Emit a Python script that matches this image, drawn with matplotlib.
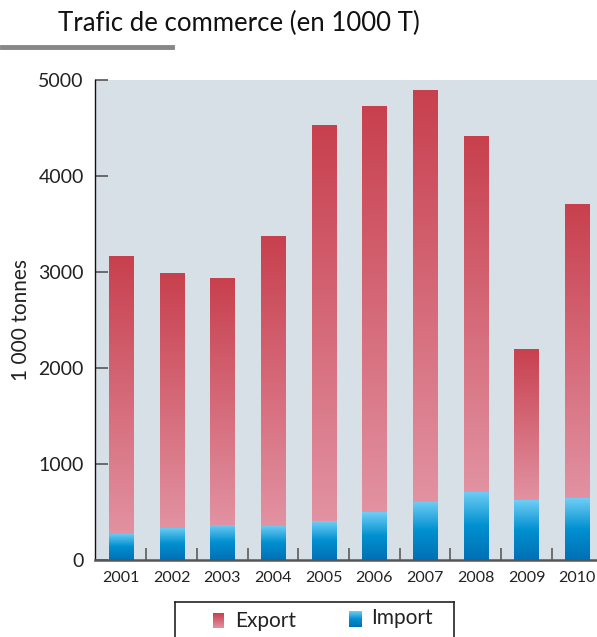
import numpy as np
import matplotlib
matplotlib.use("Agg")
import matplotlib.pyplot as plt
from matplotlib.colors import LinearSegmentedColormap

plt.rcParams['font.family'] = ['Lato', 'DejaVu Sans']

# data (1000 tonnes)
years = ['2001', '2002', '2003', '2004', '2005', '2006', '2007', '2008', '2009', '2010']
total = [3170, 2990, 2935, 3370, 4530, 4725, 4895, 4415, 2200, 3705]
imports = [275, 335, 365, 355, 405, 500, 605, 710, 625, 645]
exports = [t - i for t, i in zip(total, imports)]

W, H = 597, 637
fig = plt.figure(figsize=(W / 100, H / 100), dpi=100)
ax = fig.add_axes([95 / W, (H - 560) / H, (W - 95) / W, 480 / H])
ax.set_facecolor('#d8e0e7')

exp_cmap = LinearSegmentedColormap.from_list('exp', ['#e292a2', '#c8404e'])
imp_cmap = LinearSegmentedColormap.from_list('imp', ['#0070b5', '#0090d0', '#70cef5'])
grad = np.linspace(0, 1, 256).reshape(-1, 1)

x = np.arange(len(years))
bw = 0.475


def gradient_bars(bars, cmap):
    # paint each bar with a vertical gradient clipped to the bar shape
    for b in bars:
        x0, y0 = b.get_x(), b.get_y()
        im = ax.imshow(grad, extent=[x0, x0 + b.get_width(), y0, y0 + b.get_height()],
                       origin='lower', aspect='auto', cmap=cmap, zorder=2)
        im.set_clip_path(b)
        b.set_alpha(0)


bi = ax.bar(x, imports, width=bw, zorder=2, linewidth=0)
be = ax.bar(x, exports, width=bw, bottom=imports, zorder=2, linewidth=0)
gradient_bars(bi, imp_cmap)
gradient_bars(be, exp_cmap)

ax.set_xlim(-0.51, 9.39)
ax.set_ylim(0, 5000)
ax.set_yticks([0, 1000, 2000, 3000, 4000, 5000])
ax.set_xticks(x)
ax.set_xticklabels(years)
ax.set_xticks(x[:-1] + 0.5, minor=True)
ax.tick_params(axis='x', which='major', length=0, labelsize=11.5, pad=8, colors='#222222')
ax.tick_params(axis='x', which='minor', direction='in', length=9, width=1.3, color='#666666')
ax.tick_params(axis='y', direction='in', length=9, width=1.2, color='#555555',
               labelsize=14, pad=8, labelcolor='#222222')
for s in ['top', 'right']:
    ax.spines[s].set_visible(False)
ax.spines['left'].set_color('#111111')
ax.spines['left'].set_linewidth(1)
ax.spines['bottom'].set_color('#555555')
ax.spines['bottom'].set_linewidth(1.8)
ax.set_ylabel('1 000 tonnes', fontsize=15, color='#222222', labelpad=5)

# title and grey rule
fig.text(58 / W, 1 - 23 / H, 'Trafic de commerce (en 1000 T)', fontsize=18.5,
         va='center', ha='left', color='#111111')
fig.add_artist(plt.Line2D([2 / W, 172 / W], [1 - 47 / H, 1 - 47 / H],
                          color='#878787', linewidth=3.5))

# legend box
lg = fig.add_axes([175 / W, -0.03, 279 / W, (H - 602) / H + 0.03])
lg.set_xticks([])
lg.set_yticks([])
lg.set_facecolor('white')
for s in lg.spines.values():
    s.set_color('#222222')
    s.set_linewidth(1.2)
lg.imshow(grad, extent=[213, 224, 628, 613], origin='lower', aspect='auto', cmap=exp_cmap)
lg.imshow(grad, extent=[349, 362, 627, 611], origin='lower', aspect='auto', cmap=imp_cmap)
lg.set_xlim(175, 454)
lg.set_ylim(H + 0.03 * H, 602)
lg.text(235, 621, 'Export', fontsize=15, va='center', ha='left', color='#222222')
lg.text(371, 618, 'Import', fontsize=15, va='center', ha='left', color='#222222')

fig.savefig('out.png', dpi=100)
